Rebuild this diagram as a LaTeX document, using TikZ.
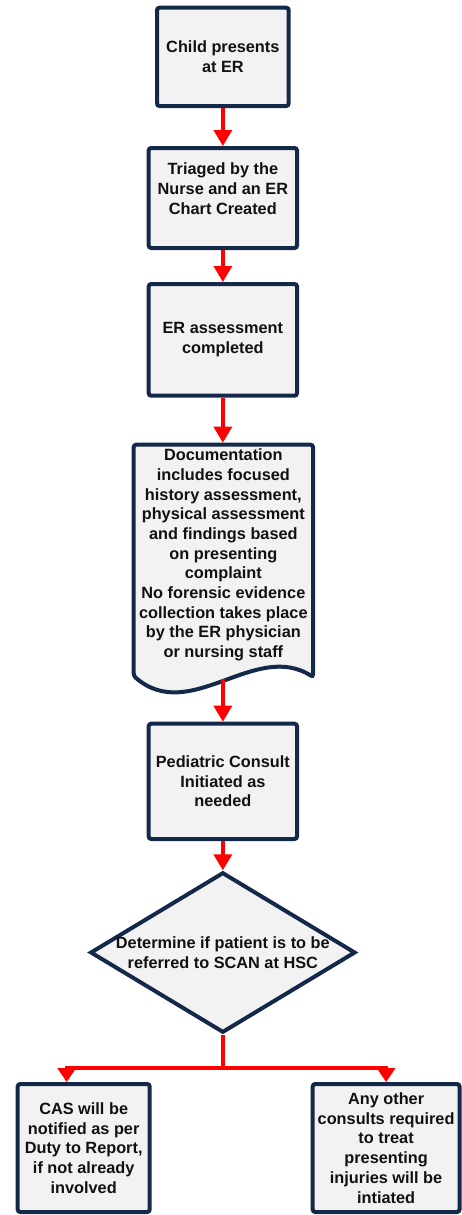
\documentclass[tikz,border=0pt]{standalone}
\usepackage{fontspec}
\setmainfont{Liberation Sans}
\usetikzlibrary{arrows.meta,shapes.geometric}
\definecolor{navy}{HTML}{14294A}
\definecolor{boxfill}{HTML}{F2F2F2}
\definecolor{arrowred}{HTML}{FF0000}
\definecolor{txtcol}{HTML}{111111}
\begin{document}
\begin{tikzpicture}[x=1pt,y=-1pt,
  lbl/.style={inner sep=0pt, align=center, text=txtcol,
    font=\bfseries\fontsize{16.3}{19.7}\selectfont},
  box/.style={lbl, rectangle, draw=navy, line width=4pt, fill=boxfill, rounded corners=2.5pt},
  docshape/.style={draw=navy, line width=4pt, fill=boxfill, rounded corners=2.5pt},
  decision/.style={diamond, draw=navy, line width=4pt, fill=boxfill, inner sep=0pt},
  arr/.style={draw=arrowred, line width=3.3pt, -{Triangle[width=18pt,length=16pt]}},
  arrb/.style={draw=arrowred, line width=3.3pt, -{Triangle[width=18pt,length=14pt]}},
  link/.style={draw=arrowred, line width=3.3pt}]
\useasboundingbox (0,0) rectangle (462,1215);

\node[box, minimum width=131.7pt, minimum height=98.3pt] (b1) at (222.85,56.85) {Child presents\\at ER};
\node[box, minimum width=148.3pt, minimum height=100pt] (b2) at (222.85,198) {};
\node[lbl] (b2t) at ([yshift=9.4pt]b2.center) {Triaged by the\\Nurse and an ER\\Chart Created};
\node[box, minimum width=148.3pt, minimum height=111.7pt] (b3) at (222.85,339.85) {ER assessment\\completed};

\draw[docshape] (133.7,444.7) -- (313,444.7) -- (313,677)
  .. controls (255,640) and (190,725) .. (133.7,676) -- cycle;
\coordinate (doctop) at (222.85,442.7);
\coordinate (docbot) at (222.85,679);
\node[lbl] (doc) at (223.35,555) {Documentation\\includes focused\\history assessment,\\physical assessment\\and findings based\\on presenting\\complaint\\No forensic evidence\\collection takes place\\by the ER physician\\or nursing staff};

\node[box, minimum width=148.3pt, minimum height=115.3pt] (b5) at (222.85,781.35) {Pediatric Consult\\Initiated as\\needed};

\node[decision, minimum width=265.2pt, minimum height=160.4pt] (dm) at (222.85,952.5) {};
\node[lbl] (dmt) at (dm.center) {Determine if patient is to be\\referred to SCAN at HSC};

\node[box, minimum width=132pt, minimum height=128pt] (b6) at (83.7,1148) {CAS will be\\notified as per\\Duty to Report,\\if not already\\involved};
\node[box, minimum width=146.8pt, minimum height=128pt] (b7) at (386.1,1148) {Any other\\consults required\\to treat\\presenting\\injuries will be\\intiated};

\coordinate (branch) at (222.85,1068);

\draw[arr] (b1.south) -- (b2.north);
\draw[arr] (b2.south) -- (b3.north);
\draw[arr] (b3.south) -- (doctop);
\draw[arr] (docbot) -- (b5.north);
\draw[arr] (b5.south) -- (dm.north);
\draw[link] (dm.south) -- (branch);
\draw[arrb] (branch) -| ([xshift=-17pt]b6.north);
\draw[arrb] (branch) -| (b7.north);
\end{tikzpicture}
\end{document}
